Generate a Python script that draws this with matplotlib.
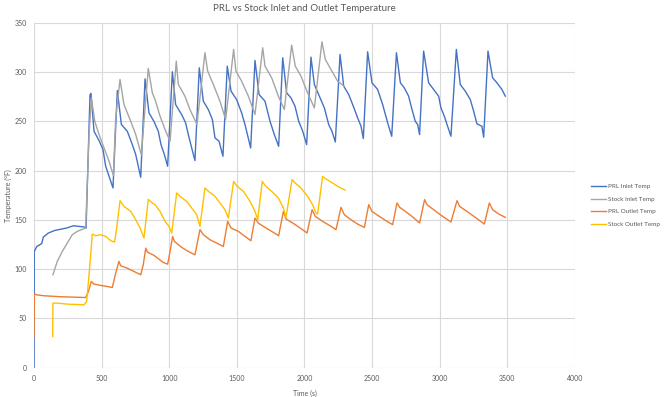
import matplotlib
matplotlib.use("Agg")
import matplotlib.pyplot as plt

# PRL inlet (blue)
prl_in_t = [0, 2, 20, 57, 69, 106, 155, 242, 291, 328, 377, 385, 414, 421, 444, 481, 510, 530,
            555, 584, 616, 646, 690, 727, 752, 789, 821, 850, 887, 919, 939, 964, 988, 1023,
            1047, 1092, 1121, 1141, 1166, 1190, 1222, 1252, 1289, 1319, 1338, 1368, 1397, 1429,
            1457, 1498, 1535, 1560, 1602, 1634, 1664, 1708, 1745, 1777, 1809, 1839, 1868, 1900,
            1930, 1957, 1987, 2016, 2048, 2073, 2110, 2147, 2179, 2203, 2228, 2263, 2290, 2327,
            2361, 2393, 2418, 2435, 2467, 2499, 2541, 2578, 2615, 2645, 2680, 2709, 2738, 2770,
            2795, 2819, 2837, 2851, 2881, 2918, 2955, 2992, 3009, 3034, 3054, 3083, 3123, 3152,
            3189, 3226, 3251, 3275, 3312, 3325, 3357, 3391, 3423, 3460, 3485]
prl_in_T = [0, 118, 123, 126, 132.6, 136.7, 139.4, 141.8, 144.1, 143.5, 142.8, 141.8, 277, 278.4,
            240, 230.6, 221.5, 204.5, 194.3, 182.5, 281.4, 247, 240, 226.5, 216.4, 193.3, 293.3,
            258.8, 250, 240, 226.5, 216.4, 204.5, 300.5, 267.2, 257, 248.6, 236.7, 223.1, 210.3,
            304.5, 270.6, 262.1, 252, 233.3, 230, 214.7, 306.2, 280.8, 272.3, 258.8, 246.9, 223.1,
            312, 277.4, 270.6, 250.3, 236.7, 224.8, 314.7, 279.1, 274, 265.5, 250.3, 240.1, 226.5,
            315.4, 287.6, 275.7, 263.8, 246.9, 240.1, 229.2, 318.1, 285.9, 277.4, 265.5, 253.7,
            245.2, 232.7, 320.8, 289.3, 282.5, 267.2, 248.6, 235, 319.8, 289.3, 284.2, 275.7,
            262.2, 250.3, 246.9, 236.7, 321.5, 289.3, 282.5, 275.7, 263.8, 255.4, 246.9, 235,
            323.2, 287.6, 280.8, 272.3, 260.4, 247.6, 245.2, 234, 321.5, 294.4, 289.3, 282.5, 275.7]

# Stock inlet (gray)
stock_in_t = [140, 172, 209, 246, 283, 320, 382, 407, 424, 449, 481, 518, 555, 587, 604, 636, 665,
              715, 752, 794, 813, 845, 875, 895, 932, 969, 1006, 1052, 1067, 1116, 1153, 1205,
              1264, 1284, 1326, 1375, 1417, 1476, 1493, 1535, 1585, 1634, 1691, 1708, 1757, 1807,
              1851, 1905, 1932, 1974, 2023, 2073, 2129, 2154, 2196, 2245, 2292]
stock_in_T = [94.3, 107.9, 118, 126.5, 135, 138.4, 141.8, 236.7, 274, 250.3, 236.7, 223, 209.6,
              195, 253.7, 292.7, 267.2, 250.3, 236.7, 216, 250, 303.9, 279, 272.3, 255.4, 241.8,
              230, 311.3, 287.6, 275.7, 262.2, 247, 319.8, 301.2, 287.6, 270.6, 252, 323.2, 301.2,
              291, 275.7, 257.1, 324.9, 306.2, 294.4, 275.7, 262.2, 327.6, 306.2, 296.1, 279.1,
              263.8, 331, 313, 302.8, 291, 285.9]

# PRL outlet (orange)
prl_out_t = [0, 3, 20, 74, 197, 382, 402, 424, 444, 493, 542, 579, 604, 628, 641, 690, 739, 789,
             808, 826, 838, 887, 924, 956, 988, 1006, 1025, 1038, 1092, 1141, 1190, 1227, 1252,
             1301, 1350, 1400, 1432, 1457, 1511, 1560, 1604, 1634, 1659, 1708, 1757, 1809, 1844,
             1863, 1913, 1962, 2019, 2056, 2080, 2134, 2184, 2233, 2270, 2295, 2344, 2393, 2443,
             2475, 2499, 2553, 2603, 2652, 2684, 2704, 2746, 2795, 2851, 2888, 2906, 2955, 3004,
             3083, 3128, 3147, 3201, 3263, 3330, 3367, 3391, 3436, 3485]
prl_out_T = [32, 75, 73.9, 73, 72, 71.2, 77.3, 87.5, 84.8, 83.5, 82.4, 81.4, 96, 107.9, 103.4, 101,
             97.7, 94.3, 104.5, 121.4, 117.4, 114, 110.2, 106.8, 105.1, 118, 133.3, 128.2, 122.1,
             118, 114.6, 140.1, 135, 129.9, 126.5, 123.1, 148.5, 141.8, 138.4, 133.3, 128.9, 151.9,
             146.8, 142.4, 138.4, 134, 158.7, 151, 146.9, 142.4, 136.7, 160.4, 153.6, 148.5, 144.5,
             140.1, 162.8, 155.3, 150.2, 145.8, 142.4, 165.5, 158.7, 153.6, 149.2, 145.2, 167.2,
             162.8, 158.7, 153.6, 146.9, 170.6, 165.5, 160.4, 155.3, 147.9, 169.6, 163.8, 158.7,
             152.6, 145.8, 167.2, 160.4, 156, 152.6]

# Stock outlet (yellow)
stock_out_t = [138, 140, 172, 246, 370, 389, 407, 431, 456, 493, 530, 567, 596, 611, 636, 665, 715,
               752, 784, 813, 845, 875, 895, 932, 969, 998, 1018, 1055, 1079, 1129, 1166, 1203,
               1227, 1264, 1289, 1338, 1375, 1412, 1437, 1476, 1498, 1548, 1597, 1634, 1654, 1688,
               1713, 1757, 1807, 1844, 1863, 1908, 1932, 1974, 2023, 2060, 2085, 2097, 2134, 2159,
               2208, 2258, 2300]
stock_out_T = [31.6, 65.5, 65.5, 64.5, 63.8, 67.2, 94.3, 135.7, 134, 135, 133.3, 128.9, 127.5, 141.8,
               169.6, 163.8, 158.7, 150.2, 141.8, 131.6, 170.9, 167.2, 165.5, 158.7, 148.5, 143.5,
               136.7, 177.4, 174, 168.9, 162.1, 155.3, 143.5, 182.5, 179.1, 174, 167.2, 160.4,
               151.9, 189.2, 184.8, 179.1, 168.9, 158.7, 150.2, 189.2, 184.2, 179.1, 172.3, 162.1,
               152.6, 190.9, 187.5, 182.4, 174, 165.5, 157, 156, 194.3, 191.6, 187.5, 183.1, 180.4]

x_ticks = [0, 500, 1000, 1500, 2000, 2500, 3000, 3500, 4000]
y_ticks = [0, 50, 100, 150, 200, 250, 300, 350]

plt.rcParams["font.family"] = ["Lato", "DejaVu Sans"]
TXT = "#595959"

fig = plt.figure(figsize=(6.67, 3.97), dpi=100)
ax = fig.add_axes([0.051, 0.074, 0.811, 0.868])

ax.plot(prl_in_t, prl_in_T, color="#4472C4", lw=1.0, label="PRL Inlet Temp")
ax.plot(stock_in_t, stock_in_T, color="#A5A5A5", lw=1.0, label="Stock Inlet Temp")
ax.plot(prl_out_t, prl_out_T, color="#ED7D31", lw=1.0, label="PRL Outlet Temp")
ax.plot(stock_out_t, stock_out_T, color="#FFC000", lw=1.0, label="Stock Outlet Temp")

ax.set_xlim(0, 4000)
ax.set_ylim(0, 350)
ax.set_xticks(x_ticks)
ax.set_yticks(y_ticks)
ax.grid(True, color="#D9D9D9", lw=0.8)
ax.set_axisbelow(True)
for s in ax.spines.values():
    s.set_visible(False)
ax.tick_params(length=0, labelsize=5, labelcolor=TXT, pad=5)

ax.set_title("PRL vs Stock Inlet and Outlet Temperature", fontsize=7, color=TXT, pad=9)
ax.set_xlabel("Time (s)", fontsize=5, color=TXT, labelpad=6)
ax.set_ylabel("Temperature (°F)", fontsize=5, color=TXT, labelpad=2)

fig.legend(loc="upper left", bbox_to_anchor=(0.886, 0.537), frameon=False, fontsize=4.5,
           labelcolor=TXT, handlelength=2.4, handletextpad=0.35, labelspacing=1.15,
           borderpad=0, borderaxespad=0)

fig.savefig("out.png", dpi=100)
